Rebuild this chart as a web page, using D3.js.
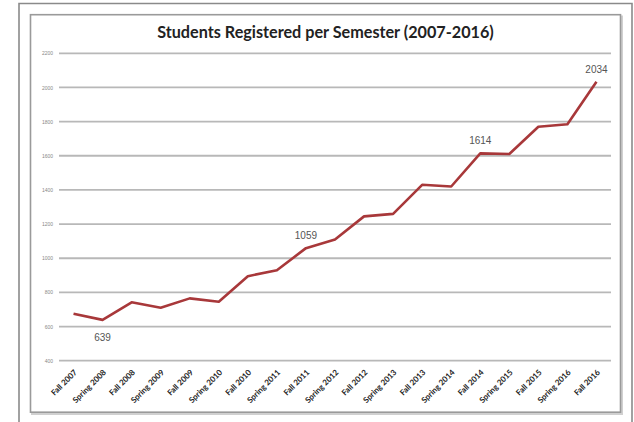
<!DOCTYPE html>
<html><head><meta charset="utf-8">
<script src="https://cdn.jsdelivr.net/npm/d3@7"></script>
<style>html,body{margin:0;padding:0;background:#fff;}</style>
</head><body>
<script>
const semesters = ["Fall 2007","Spring 2008","Fall 2008","Spring 2009","Fall 2009","Spring 2010","Fall 2010","Spring 2011","Fall 2011","Spring 2012","Fall 2012","Spring 2013","Fall 2013","Spring 2014","Fall 2014","Spring 2015","Fall 2015","Spring 2016","Fall 2016"];
const students = [675,639,742,710,765,745,895,930,1059,1110,1245,1260,1430,1420,1614,1610,1770,1785,2034];
const yTicks = [400,600,800,1000,1200,1400,1600,1800,2000,2200];
const labelled = ["Spring 2008","Fall 2011","Fall 2014","Fall 2016"];
const title = "Students Registered per Semester (2007-2016)";

const W = 634, H = 422;
const svg = d3.select("body").append("svg").attr("width", W).attr("height", H);

// outer frame (partial, as in screenshot)
svg.append("path").attr("d","M19,422 L19,3.5 L632,3.5 L632,422")
  .attr("fill","none").attr("stroke","#8a8a8a").attr("stroke-width",1.6);
// inner chart box with shadow
svg.append("rect").attr("x",32).attr("y",16.5).attr("width",590).attr("height",397.5)
  .attr("fill","none").attr("stroke","#d0d0d0").attr("stroke-width",2);
svg.append("rect").attr("x",30.5).attr("y",14.7).attr("width",590).attr("height",397.5)
  .attr("fill","#fff").attr("stroke","#9a9a9a").attr("stroke-width",1.6);

const x = d3.scaleBand().domain(semesters).range([59, 611]);
const y = d3.scaleLinear().domain([400, 2200]).range([360.7, 53.3]);

// gridlines
svg.append("g").selectAll("line").data(yTicks).join("line")
  .attr("x1", 59).attr("x2", 611)
  .attr("y1", d => y(d)).attr("y2", d => y(d))
  .attr("stroke", "#b8b8b8").attr("stroke-width", 1.8);

// y axis labels
const yAxis = d3.axisLeft(y).tickValues(yTicks).tickFormat(d3.format("d")).tickSize(0).tickPadding(0);
const yg = svg.append("g").attr("transform","translate(53,0)").call(yAxis);
yg.select(".domain").remove();
yg.selectAll("text").attr("font-family","Liberation Sans, Arial, sans-serif")
  .attr("font-size", 5).attr("fill","#888");

// x axis labels
const xAxis = d3.axisBottom(x).tickSize(0).tickPadding(0);
const xg = svg.append("g").attr("transform","translate(0,369)").call(xAxis);
xg.select(".domain").remove();
xg.selectAll("text")
  .attr("font-family","Lato, 'Open Sans', sans-serif").attr("font-weight","bold")
  .attr("font-size", 8).attr("fill","#222")
  .attr("text-anchor","end").attr("dy","0.35em")
  .attr("transform","translate(2,2) rotate(-45)");

// line
const line = d3.line().x((d,i) => x(semesters[i]) + x.bandwidth()/2).y(d => y(d));
svg.append("path").datum(students).attr("d", line)
  .attr("fill","none").attr("stroke","#a8383a").attr("stroke-width",2.6)
  .attr("stroke-linejoin","round");

// data labels
svg.append("g").selectAll("text").data(semesters.map((s,i)=>({s, v:students[i]})).filter(d=>labelled.includes(d.s)))
  .join("text")
  .attr("x", d => x(d.s) + x.bandwidth()/2)
  .attr("y", d => d.s === "Spring 2008" ? y(d.v) + 21 : y(d.v) - 9)
  .attr("text-anchor","middle")
  .attr("font-family","Liberation Sans, Arial, sans-serif").attr("font-size", 10)
  .attr("fill","#555").text(d => d.v);

// title
svg.append("text").attr("x", 325.5).attr("y", 37.5).attr("text-anchor","middle")
  .attr("font-family","Lato, 'Open Sans', sans-serif").attr("font-weight","bold")
  .attr("font-size", 16.2).attr("fill","#222").text(title);
</script>
</body></html>
